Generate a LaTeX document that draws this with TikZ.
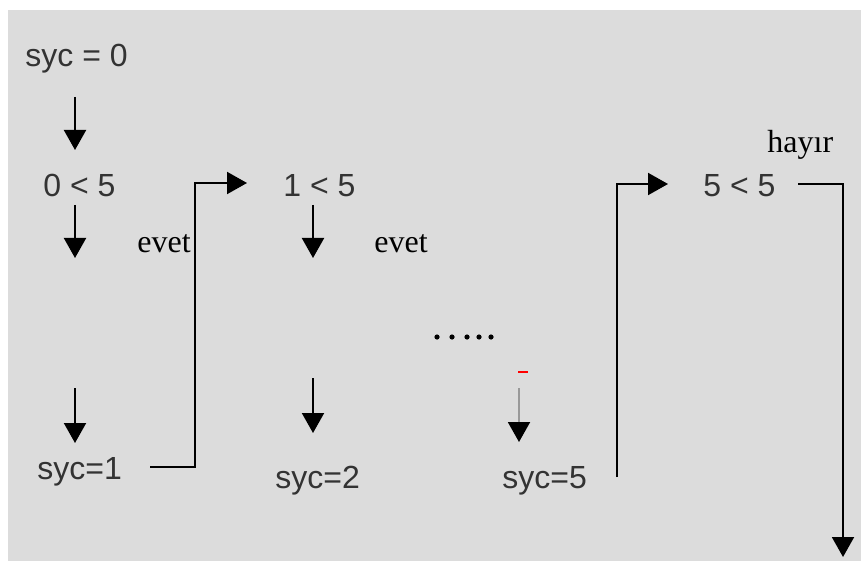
\documentclass[tikz,border=0pt]{standalone}
\usepackage{fontspec}
\setmainfont{Liberation Serif}
\newfontfamily\arialfont{Liberation Sans}
\usetikzlibrary{arrows.meta}
\definecolor{bggray}{HTML}{DCDCDC}
\tikzset{
  val/.style={font=\arialfont\fontsize{16}{19}\selectfont, text=black!80, inner sep=0pt, anchor=base west},
  lbl/.style={font=\fontsize{16}{19}\selectfont, inner sep=0pt, anchor=base west},
  flow/.style={line width=1pt, -{Triangle[width=11pt,length=10pt]}},
  link/.style={line width=1pt},
}
\begin{document}
\begin{tikzpicture}[x=0.5pt, y=-0.5pt]
  \useasboundingbox (0,0) rectangle (861,561);
  \fill[bggray] (8,10) rectangle (861,561);

  % Values
  \node[val] (syc0) at (25,67) {syc = 0};
  \node[val] (lt0) at (43,197) {0 < 5};
  \node[val] (lt1) at (283,197) {1 < 5};
  \node[val] (lt5) at (703,197) {5 < 5};
  \node[val] (syc1) at (37,479) {syc=1};
  \node[val] (syc2) at (275,488) {syc=2};
  \node[val] (syc5) at (502,488) {syc=5};

  % Labels
  \node[lbl] (evet1) at (137,252) {evet};
  \node[lbl] (evet2) at (374,252) {evet};
  \node[lbl] (hayir) at (767,153) {hayır};

  % Arrow ends
  \coordinate (a0s) at (75,97);   \coordinate (a0e) at (75,150);
  \coordinate (a1s) at (75,205);  \coordinate (a1e) at (75,258);
  \coordinate (a2s) at (75,388);  \coordinate (a2e) at (75,443);
  \coordinate (b1s) at (313,205); \coordinate (b1e) at (313,258);
  \coordinate (b2s) at (313,378); \coordinate (b2e) at (313,433);
  \coordinate (c2s) at (519,388); \coordinate (c2e) at (519,442);

  \draw[flow] (a0s) -- (a0e);
  \draw[flow] (a1s) -- (a1e);
  \draw[flow] (a2s) -- (a2e);
  \draw[flow] (b1s) -- (b1e);
  \draw[flow] (b2s) -- (b2e);
  \draw[flow, draw=black!40, -{Triangle[width=11pt,length=10pt,color=black]}] (c2s) -- (c2e);
  \draw[red, line width=1pt] (518,372) -- (528,372);

  % Dots
  \foreach \x in {437,452,467,479,491} {
    \fill (\x,337) circle[radius=1.3pt];
  }

  % Loops
  \coordinate (l1s) at (150,467); \coordinate (l1e) at (247,183);
  \coordinate (l2s) at (617,477); \coordinate (l2e) at (668,184);
  \coordinate (l3s) at (798,184); \coordinate (l3e) at (843,557);
  \draw[flow] (l1s) -| (195,183) -- (l1e);
  \draw[flow] (l2s) |- (l2e);
  \draw[flow] (l3s) -| (l3e);
\end{tikzpicture}
\end{document}
